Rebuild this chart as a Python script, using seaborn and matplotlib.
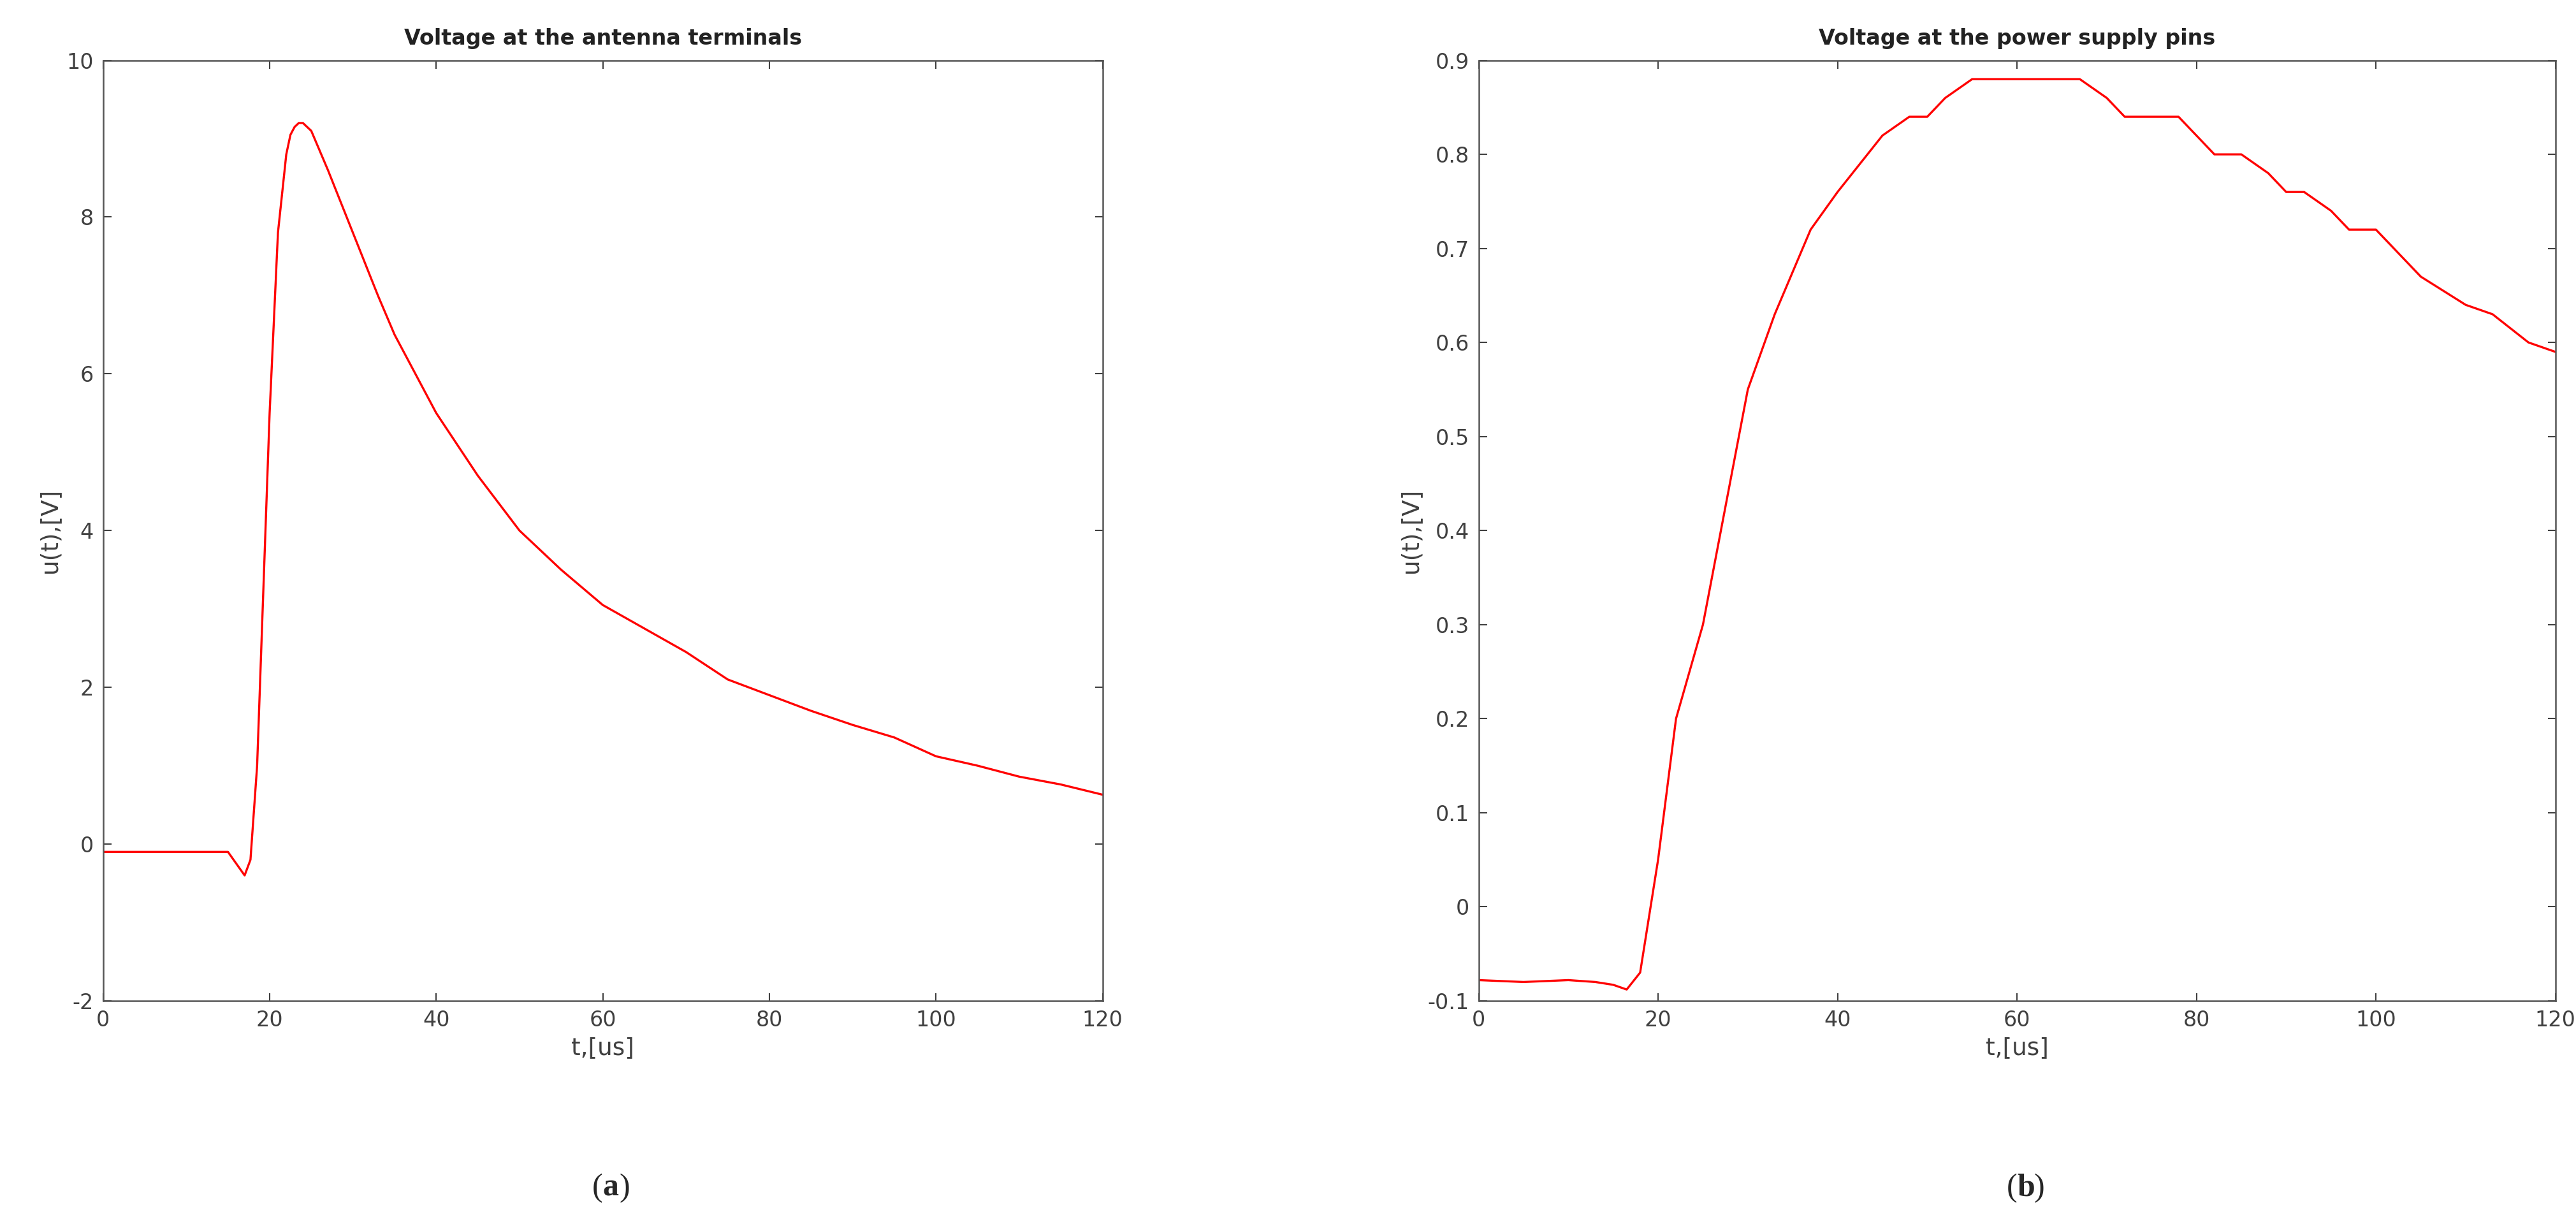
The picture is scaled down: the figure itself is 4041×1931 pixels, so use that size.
import numpy as np
import matplotlib.pyplot as plt
import seaborn as sns

# (a) antenna terminals
t_a = [0, 5, 10, 15, 16, 17, 17.7, 18.5, 19, 20, 21, 22, 22.5, 23, 23.5, 24, 25, 27, 30, 33, 35, 38, 40, 45, 50, 55, 60,
       65, 70, 75, 80, 85, 90, 95, 100, 105, 110, 115, 120]
u_a = [-0.1, -0.1, -0.1, -0.1, -0.25, -0.4, -0.2, 1.0, 2.5, 5.5, 7.8, 8.8, 9.05, 9.15, 9.2, 9.2, 9.1, 8.6, 7.8, 7.0,
       6.5, 5.9, 5.5, 4.7, 4.0, 3.5, 3.05, 2.75, 2.45, 2.1, 1.9, 1.7, 1.52, 1.36, 1.12, 1.0, 0.86, 0.76, 0.63]

# (b) power supply pins
t_b = [0, 5, 10, 13, 15, 16.5, 18, 20, 22, 25, 27, 30, 33, 37, 40, 45, 48, 50, 52, 55, 60, 67, 70, 72,
       78, 82, 85, 88, 90, 92, 95, 97, 100, 102, 105, 110, 113, 117, 120]
u_b = [-0.078, -0.08, -0.078, -0.08, -0.083, -0.088, -0.07, 0.05, 0.2, 0.3, 0.4, 0.55, 0.63, 0.72, 0.76, 0.82,
       0.84, 0.84, 0.86, 0.88, 0.88, 0.88, 0.86, 0.84, 0.84, 0.80, 0.80, 0.78, 0.76, 0.76, 0.74, 0.72,
       0.72, 0.70, 0.67, 0.64, 0.63, 0.60, 0.59]

sns.set_style("white")
plt.rcParams['font.family'] = ['DejaVu Sans']
grey = "#404040"

fig = plt.figure(figsize=(4041 / 300, 1931 / 300), dpi=300)
ax1 = fig.add_axes([0.040, 0.187, 0.388, 0.764])
ax2 = fig.add_axes([0.574, 0.187, 0.418, 0.764])

panels = [
    (ax1, t_a, u_a, "Voltage at the antenna terminals", (-2, 10), np.arange(-2, 11, 2), "a"),
    (ax2, t_b, u_b, "Voltage at the power supply pins", (-0.1, 0.9), np.round(np.arange(-0.1, 0.91, 0.1), 1), "b"),
]
for ax, t, u, title, ylim, yt, tag in panels:
    sns.lineplot(x=t, y=u, ax=ax, color="red", linewidth=0.8)
    ax.set_xlim(0, 120)
    ax.set_ylim(*ylim)
    ax.set_xticks(np.arange(0, 121, 20))
    ax.set_yticks(yt)
    ax.set_yticklabels([f"{v:g}" for v in yt])
    ax.set_title(title, fontsize=8, fontweight="bold", color="#222222")
    ax.set_xlabel("t,[us]", fontsize=9, color=grey, labelpad=2)
    ax.set_ylabel("u(t),[V]", fontsize=9, color=grey, labelpad=2)
    ax.tick_params(direction="in", length=3, width=0.5, labelsize=8, colors=grey,
                   top=True, right=True, bottom=True, left=True)
    for s in ax.spines.values():
        s.set_color("#555555")
        s.set_linewidth(0.6)
    xc = (ax.get_position().x0 + ax.get_position().x1) / 2
    fig.text(xc, 0.035, "(", ha="right", va="center", fontsize=12, family="Liberation Serif")
    fig.text(xc, 0.035, tag, ha="left", va="center", fontsize=12, family="Liberation Serif", fontweight="bold")
    fig.text(xc + 0.0065, 0.035, ")", ha="left", va="center", fontsize=12, family="Liberation Serif")

fig.savefig("out.png", dpi=300)
